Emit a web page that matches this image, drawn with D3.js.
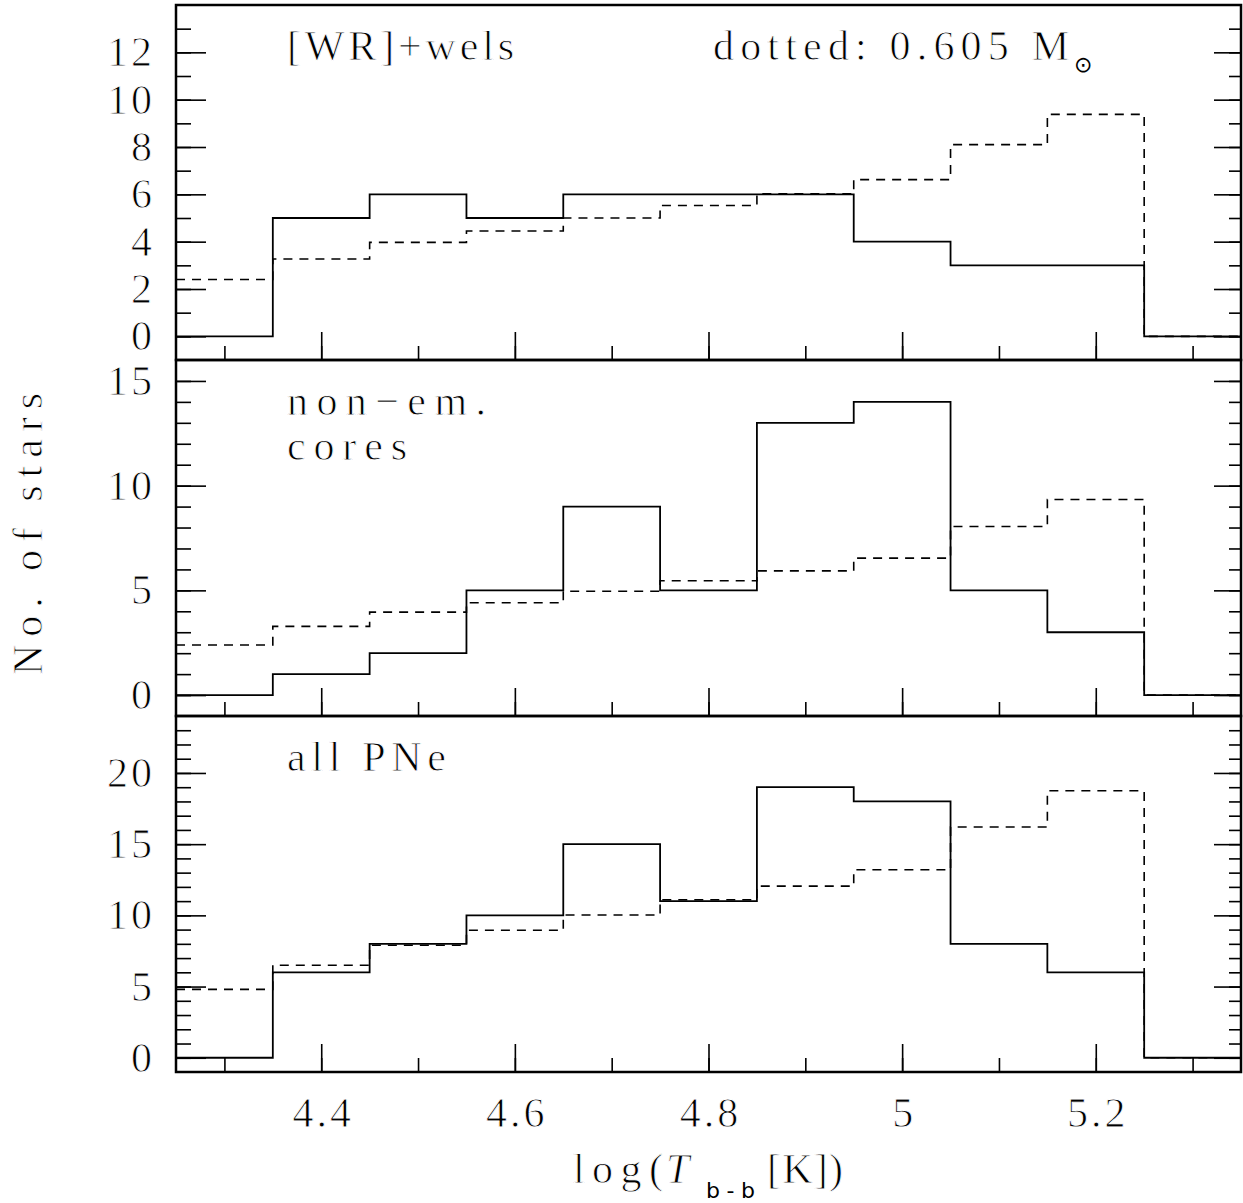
<!DOCTYPE html>
<html>
<head>
<meta charset="utf-8">
<script src="https://cdn.jsdelivr.net/npm/d3@7"></script>
<style>
  body { margin: 0; background: #fff; }
  svg text { font-family: "Liberation Serif", serif; fill: #000; stroke: #fff; stroke-width: 0.9px; }
</style>
</head>
<body>
<div id="chart"></div>
<script>
// bin starts of log(T) histogram, width 0.1
const binStarts = [4.25, 4.35, 4.45, 4.55, 4.65, 4.75, 4.85, 4.95, 5.05, 5.15, 5.25];
const binEnd = 5.35;

// observed counts (solid)
const wrWelsCounts = [0, 5, 6, 5, 6, 6, 6, 4, 3, 3, 0];
const nonEmCounts = [0, 1, 2, 5, 9, 5, 13, 14, 5, 3, 0];
const allPNeCounts = [0, 6, 8, 10, 15, 11, 19, 18, 8, 6, 0];

// 0.605 Msun model (dotted)
const modelWrWels = [2.4, 3.27, 3.97, 4.45, 5.0, 5.53, 6.02, 6.62, 8.1, 9.38, 0];
const modelNonEm = [2.39, 3.28, 3.96, 4.41, 4.96, 5.46, 5.93, 6.54, 8.05, 9.34, 0];
const modelAllPNe = [4.8, 6.5, 7.9, 8.95, 10.03, 11.1, 12.05, 13.2, 16.2, 18.75, 0];

// tick labels
const xTickValues = [4.4, 4.6, 4.8, 5.0, 5.2];
const xTickLabels = ["4.4", "4.6", "4.8", "5", "5.2"];
const yTicksTop = [0, 2, 4, 6, 8, 10, 12];
const yTicksMid = [0, 5, 10, 15];
const yTicksBot = [0, 5, 10, 15, 20];

const width = 1243,
  height = 1203,
  left = 176,
  right = 1241;

const svg = d3
  .select("#chart")
  .append("svg")
  .attr("width", width)
  .attr("height", height);

const x = d3.scaleLinear().domain([4.25, binEnd]).range([left, right]);

const panels = [
  { top: 5, bottom: 360, domain: [-1, 14], major: yTicksTop, minorMax: 13,
    solid: wrWelsCounts, dotted: modelWrWels },
  { top: 360, bottom: 716, domain: [-1, 16], major: yTicksMid, minorMax: 15,
    solid: nonEmCounts, dotted: modelNonEm },
  { top: 716, bottom: 1072, domain: [-1, 24], major: yTicksBot, minorMax: 23,
    solid: allPNeCounts, dotted: modelAllPNe },
];

const line = d3.line().curve(d3.curveStepAfter);

function steps(vals) {
  const pts = binStarts.map((b, i) => [b, vals[i]]);
  pts.push([binEnd, vals[vals.length - 1]]);
  return pts;
}

panels.forEach((p, idx) => {
  const y = d3.scaleLinear().domain(p.domain).range([p.bottom, p.top]);
  const g = svg.append("g");
  const isLast = idx === panels.length - 1;

  /* Y AXES */
  const minor = d3.range(0, p.minorMax + 1);
  g.append("g")
    .attr("transform", `translate(${left},0)`)
    .call(d3.axisLeft(y).tickValues(minor).tickSizeInner(-15).tickSizeOuter(0).tickFormat(""));
  g.append("g")
    .attr("class", "ylab")
    .attr("transform", `translate(${left},0)`)
    .call(d3.axisLeft(y).tickValues(p.major).tickSizeInner(-30).tickSizeOuter(0).tickPadding(24).tickFormat(d3.format("d")));
  g.append("g")
    .attr("transform", `translate(${right},0)`)
    .call(d3.axisRight(y).tickValues(minor).tickSizeInner(-12).tickSizeOuter(0).tickFormat(""));
  g.append("g")
    .attr("transform", `translate(${right},0)`)
    .call(d3.axisRight(y).tickValues(p.major).tickSizeInner(-27).tickSizeOuter(0).tickFormat(""));

  /* X AXES (ticks point up from panel bottom) */
  g.append("g")
    .attr("transform", `translate(0,${p.bottom})`)
    .call(d3.axisBottom(x).tickValues(d3.range(4.3, 5.31, 0.1)).tickSizeInner(-14).tickSizeOuter(0).tickFormat(""));
  g.append("g")
    .attr("class", "xlab")
    .attr("transform", `translate(0,${p.bottom})`)
    .call(
      d3.axisBottom(x)
        .tickValues(xTickValues)
        .tickSizeInner(-28)
        .tickSizeOuter(0)
        .tickPadding(25)
        .tickFormat((d, i) => (isLast ? xTickLabels[i] : ""))
    );

  g.selectAll(".domain").remove();
  g.selectAll(".tick line").attr("stroke", "#000").attr("stroke-width", 1.6);
  g.selectAll(".tick text")
    .attr("font-family", "Liberation Serif, serif")
    .attr("font-size", 42)
    .attr("letter-spacing", 3);
  g.selectAll(".ylab .tick text").attr("dx", 3);
  g.selectAll(".xlab .tick text").attr("dx", 1.5);

  /* HISTOGRAMS */
  g.append("path")
    .attr("d", line(steps(p.dotted).map((d) => [x(d[0]), y(d[1])])))
    .attr("fill", "none")
    .attr("stroke", "#000")
    .attr("stroke-width", 1.6)
    .attr("stroke-dasharray", "9,7");
  g.append("path")
    .attr("d", line(steps(p.solid).map((d) => [x(d[0]), y(d[1])])))
    .attr("fill", "none")
    .attr("stroke", "#000")
    .attr("stroke-width", 1.8);

  /* FRAME */
  g.append("rect")
    .attr("x", left)
    .attr("y", p.top)
    .attr("width", right - left)
    .attr("height", p.bottom - p.top)
    .attr("fill", "none")
    .attr("stroke", "#000")
    .attr("stroke-width", 2.5);
});

/* LABELS */
function label(txt, xx, yy, len, size, extra) {
  const t = svg.append("text")
    .attr("x", xx)
    .attr("y", yy)
    .attr("font-size", size || 42)
    .text(txt);
  if (len) t.attr("textLength", len).attr("lengthAdjust", "spacing");
  if (extra) extra(t);
  return t;
}

label("[WR]+wels", 287, 60, 227);
label("dotted: 0.605 M", 713, 60, 356);
label("\u2299", 1074, 72, null, 22, (t) => t.style("font-family", "DejaVu Sans").style("stroke", "none"));
label("non\u2212em.", 287, 415, 199);
label("cores", 287, 460, 120);
label("all PNe", 287, 771, 159);

// y-axis title
svg.append("text")
  .attr("transform", "translate(42,675) rotate(-90)")
  .attr("font-size", 42)
  .attr("textLength", 282)
  .attr("lengthAdjust", "spacing")
  .text("No. of stars");

// x-axis title
label("log(", 573, 1183, 90);
label("T", 666, 1183, null, 42, (t) => t.attr("font-style", "italic"));
label("b-b", 706, 1198, 49, 22, (t) => t.style("font-family", "DejaVu Sans").style("stroke", "none"));
label("[K])", 767, 1183, 76);
</script>
</body>
</html>
